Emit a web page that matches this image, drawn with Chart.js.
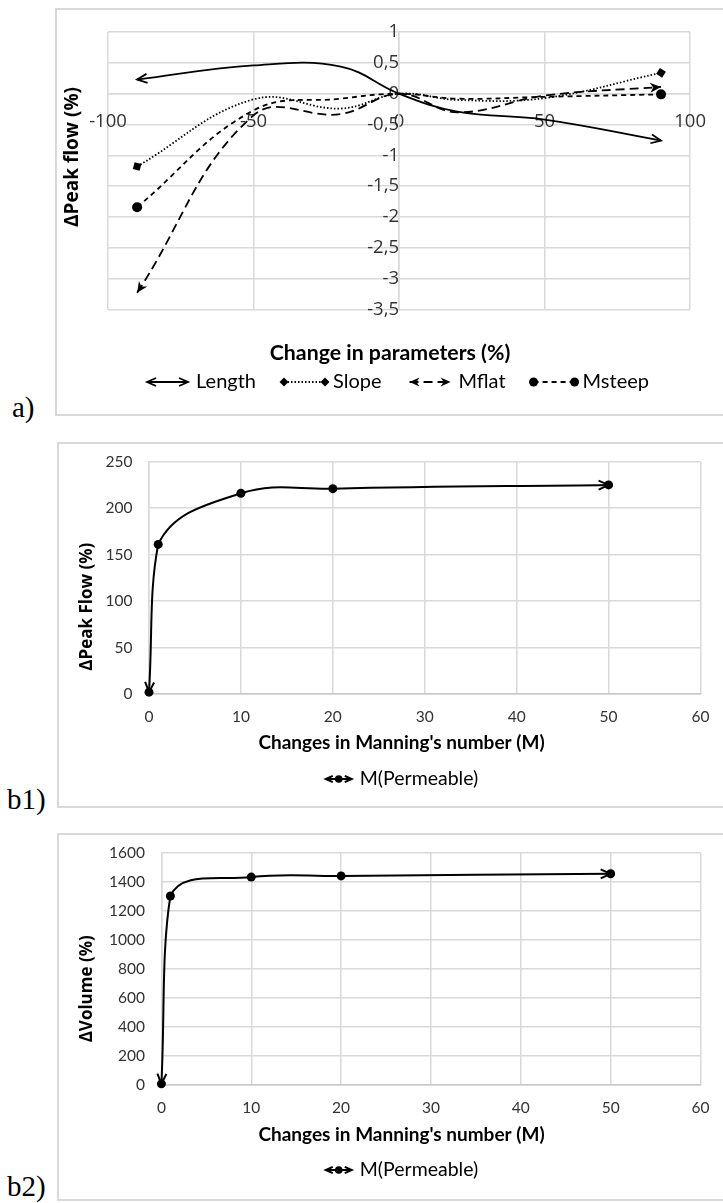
<!DOCTYPE html>
<html>
<head>
<meta charset="utf-8">
<script src="https://cdn.jsdelivr.net/npm/chart.js@4.4.1/dist/chart.umd.min.js"></script>
<style>
  body { margin: 0; background: #fff; }
  #page { position: relative; width: 723px; height: 1203px; overflow: hidden; background: #fff; }
  .frame { position: absolute; border: 2px solid #d9d9d9; box-sizing: border-box; }
  .tag { position: absolute; font-family: "Liberation Serif", "Times New Roman", serif; font-size: 29px; line-height: 29px; color: #000; }
  canvas { position: absolute; left: 0; }
</style>
</head>
<body>
<div id="page">
  <div class="frame" style="left:55px;top:8px;width:700px;height:408px"></div>
  <div class="frame" style="left:57px;top:442px;width:700px;height:366px"></div>
  <div class="frame" style="left:57px;top:833px;width:700px;height:368px"></div>
  <div class="tag" style="left:12px;top:393px">a)</div>
  <div class="tag" style="left:7px;top:785px">b1)</div>
  <div class="tag" style="left:7px;top:1172px">b2)</div>
  <canvas id="chartA" width="723" height="425" style="top:0"></canvas>
  <canvas id="chartB1" width="723" height="395" style="top:425px"></canvas>
  <canvas id="chartB2" width="723" height="383" style="top:820px"></canvas>
</div>
<script>
// a) change in peak flow vs change in each parameter
const changePct = [-90, -50, -20, 0, 20, 50, 90];
const lengthPeak = [0.23, 0.46, 0.44, 0, -0.29, -0.42, -0.76];
const slopePeak = [-1.18, -0.09, -0.24, 0, -0.10, -0.07, 0.34];
const mflatPeak = [-3.23, -0.35, -0.33, 0, -0.30, -0.03, 0.11];
const msteepPeak = [-1.84, -0.27, -0.08, 0, -0.08, -0.05, -0.01];
const aXTicks = [-100, -50, 0, 50, 100];
const aYTicks = [1, 0.5, 0, -0.5, -1, -1.5, -2, -2.5, -3, -3.5];

// b1/b2) Manning's number on the permeable surface
const manningM = [0, 1, 10, 20, 50];
const permPeak = [2, 161, 216, 221, 225];
const permVolume = [8, 1302, 1432, 1440, 1455];
const bXTicks = [0, 10, 20, 30, 40, 50, 60];
const b1YTicks = [0, 50, 100, 150, 200, 250];
const b2YTicks = [0, 200, 400, 600, 800, 1000, 1200, 1400, 1600];

const GRID = '#d9d9d9';
const TICK = '#333';

function pairs(xs, ys) {
    return xs.map((x, i) => ({ x: x, y: ys[i] }));
}

function fixedTicks(list) {
    return function (scale) {
        scale.ticks = list.map(v => ({ value: v }));
    };
}

function comma(v) {
    return String(v).replace('.', ',');
}

function plain(v) {
    return String(v);
}

// line-end decorations, drawn like office arrowheads
function drawCap(ctx, type, x, y, ang, color, lw, k) {
    if (!type) return;
    k = k || 1;
    const c = Math.cos(ang), s = Math.sin(ang);
    ctx.save();
    ctx.setLineDash([]);
    ctx.strokeStyle = color;
    ctx.fillStyle = color;
    ctx.lineWidth = lw;
    ctx.lineJoin = 'miter';
    ctx.beginPath();
    if (type === 'open') {
        const L = 10 * k, W = 4.5 * k;
        ctx.moveTo(x - L * c - W * s, y - L * s + W * c);
        ctx.lineTo(x, y);
        ctx.lineTo(x - L * c + W * s, y - L * s - W * c);
        ctx.stroke();
    } else if (type === 'stealth') {
        const L = 11 * k, W = 5 * k;
        ctx.moveTo(x, y);
        ctx.lineTo(x - L * c - W * s, y - L * s + W * c);
        ctx.lineTo(x - 0.7 * L * c, y - 0.7 * L * s);
        ctx.lineTo(x - L * c + W * s, y - L * s - W * c);
        ctx.closePath();
        ctx.fill();
    } else if (type === 'diamond') {
        const r = 5 * k;
        ctx.moveTo(x + r * c, y + r * s);
        ctx.lineTo(x - r * s, y + r * c);
        ctx.lineTo(x - r * c, y - r * s);
        ctx.lineTo(x + r * s, y - r * c);
        ctx.closePath();
        ctx.fill();
    } else if (type === 'oval') {
        ctx.arc(x, y, 5 * k, 0, Math.PI * 2);
        ctx.fill();
    }
    ctx.restore();
}

function capAngle(p, cx, cy, nb) {
    let dx = p.x - cx, dy = p.y - cy;
    if (!isFinite(dx) || !isFinite(dy) || Math.hypot(dx, dy) < 0.5) {
        dx = p.x - nb.x;
        dy = p.y - nb.y;
    }
    return Math.atan2(dy, dx);
}

const endCaps = {
    id: 'endCaps',
    afterDatasetsDraw(chart) {
        const ctx = chart.ctx;
        chart.data.datasets.forEach((ds, i) => {
            const pts = chart.getDatasetMeta(i).data;
            if (pts.length < 2) return;
            const a = pts[0], b = pts[pts.length - 1];
            drawCap(ctx, ds.startCap, a.x, a.y, capAngle(a, a.cp2x, a.cp2y, pts[1]), ds.borderColor, ds.borderWidth);
            drawCap(ctx, ds.endCap, b.x, b.y, capAngle(b, b.cp1x, b.cp1y, pts[pts.length - 2]), ds.borderColor, ds.borderWidth);
        });
    }
};

// axis titles placed like the spreadsheet layout
function titles(items) {
    return {
        id: 'panelTitles',
        afterDraw(chart) {
            const ctx = chart.ctx;
            items.forEach(t => {
                ctx.save();
                ctx.font = t.font;
                ctx.fillStyle = '#000';
                ctx.textAlign = 'center';
                ctx.textBaseline = 'middle';
                ctx.translate(t.x, t.y);
                if (t.rotate) ctx.rotate(-Math.PI / 2);
                ctx.fillText(t.text, 0, 0);
                ctx.restore();
            });
        }
    };
}

// legend row with line samples, arrowheads and markers
function keyRow(cx, cy, font, sampleW, gap, capK) {
    return {
        id: 'keyRow',
        afterDraw(chart) {
            const ctx = chart.ctx;
            ctx.save();
            ctx.font = font;
            const items = chart.data.datasets.map(ds => ({ ds: ds, w: sampleW + 6 + ctx.measureText(ds.label).width }));
            const total = items.reduce((s, it) => s + it.w, 0) + gap * (items.length - 1);
            let x = cx - total / 2;
            items.forEach(it => {
                const ds = it.ds;
                const x0 = x + 2, x1 = x + sampleW - 2;
                ctx.save();
                ctx.setLineDash(ds.borderDash || []);
                ctx.strokeStyle = ds.borderColor;
                ctx.lineWidth = ds.borderWidth;
                ctx.beginPath();
                ctx.moveTo(x0, cy);
                ctx.lineTo(x1, cy);
                ctx.stroke();
                ctx.restore();
                drawCap(ctx, ds.startCap, x0, cy, Math.PI, ds.borderColor, ds.borderWidth, capK);
                drawCap(ctx, ds.endCap, x1, cy, 0, ds.borderColor, ds.borderWidth, capK);
                if (ds.pointRadius > 0) {
                    ctx.beginPath();
                    ctx.fillStyle = ds.pointBackgroundColor;
                    ctx.arc((x0 + x1) / 2, cy, ds.pointRadius * 0.85, 0, Math.PI * 2);
                    ctx.fill();
                }
                ctx.fillStyle = '#000';
                ctx.textAlign = 'left';
                ctx.textBaseline = 'middle';
                ctx.fillText(ds.label, x + sampleW + 6, cy);
                x += it.w + gap;
            });
            ctx.restore();
        }
    };
}

const base = {
    animation: false,
    responsive: false,
    events: [],
    plugins: { legend: { display: false }, tooltip: { enabled: false } }
};

function lineSet(label, data, dash, startCap, endCap) {
    return {
        label: label,
        data: data,
        borderColor: '#000',
        borderWidth: 1.8,
        borderDash: dash,
        tension: 0.4,
        pointRadius: 0,
        fill: false,
        clip: false,
        startCap: startCap,
        endCap: endCap
    };
}

new Chart('chartA', {
    type: 'line',
    data: {
        datasets: [
            lineSet('Length', pairs(changePct, lengthPeak), [], 'open', 'open'),
            lineSet('Slope', pairs(changePct, slopePeak), [1.5, 2], 'diamond', 'diamond'),
            lineSet('Mflat', pairs(changePct, mflatPeak), [9, 5], 'stealth', 'stealth'),
            lineSet('Msteep', pairs(changePct, msteepPeak), [5, 4], 'oval', 'oval')
        ]
    },
    options: Object.assign({}, base, {
        layout: { padding: { left: 108, right: 27, top: 29.5, bottom: 115.5 } },
        scales: {
            x: {
                type: 'linear',
                position: { y: 0 },
                min: -100, max: 100,
                afterBuildTicks: fixedTicks(aXTicks),
                grid: { color: GRID, lineWidth: 1.5, drawTicks: false },
                border: { color: GRID, width: 1.5 },
                ticks: { padding: 17, color: TICK, autoSkip: false, maxRotation: 0, font: { family: 'Open Sans', size: 18.5 }, callback: comma }
            },
            y: {
                type: 'linear',
                position: { x: 0 },
                min: -3.5, max: 1,
                afterBuildTicks: fixedTicks(aYTicks),
                grid: { color: GRID, lineWidth: 1.5, drawTicks: false },
                border: { color: GRID, width: 1.5 },
                ticks: { padding: 21, color: TICK, autoSkip: false, font: { family: 'Open Sans', size: 18.5 }, callback: comma }
            }
        }
    }),
    plugins: [
        endCaps,
        titles([
            { text: 'Change in parameters (%)', x: 390, y: 353, font: 'bold 21.3px Lato' },
            { text: 'ΔPeak flow (%)', x: 73, y: 157, font: 'bold 19px "Open Sans"', rotate: true }
        ]),
        keyRow(397, 382, '20px Lato', 45, 26, 0.9)
    ]
});

function manningChart(id, values, yTicks, yMax, yTitle, geo) {
    return new Chart(id, {
        type: 'line',
        data: {
            datasets: [{
                label: 'M(Permeable)',
                data: pairs(manningM, values),
                borderColor: '#000',
                borderWidth: 2,
                tension: 0.4,
                pointRadius: 4.5,
                pointBackgroundColor: '#000',
                pointBorderWidth: 0,
                fill: false,
                clip: false,
                startCap: 'open',
                endCap: 'open'
            }]
        },
        options: Object.assign({}, base, {
            layout: { padding: { left: 0, right: 15.3, top: geo.top, bottom: 0 } },
            scales: {
                x: {
                    type: 'linear',
                    min: 0, max: 60,
                    afterBuildTicks: fixedTicks(bXTicks),
                    afterFit: s => { s.height = geo.xh; },
                    grid: { color: GRID, lineWidth: 1.5, drawTicks: false },
                    border: { color: '#c8c8c8', width: 1.5 },
                    ticks: { padding: 13.5, color: TICK, autoSkip: false, maxRotation: 0, font: { family: 'Lato', size: 15.5 }, callback: plain }
                },
                y: {
                    type: 'linear',
                    min: 0, max: yMax,
                    afterBuildTicks: fixedTicks(yTicks),
                    afterFit: s => { s.width = geo.yw; },
                    grid: { color: GRID, lineWidth: 1.5, drawTicks: false },
                    border: { color: GRID, width: 1.5 },
                    ticks: { padding: 16.5, color: TICK, autoSkip: false, font: { family: 'Lato', size: 15.5 }, callback: plain }
                }
            }
        }),
        plugins: [
            endCaps,
            titles([
                { text: "Changes in Manning's number (M)", x: 401.5, y: geo.xt, font: 'bold 19px Lato' },
                { text: yTitle, x: 87.6, y: geo.yt, font: 'bold 17px "Open Sans"', rotate: true }
            ]),
            keyRow(401, geo.key, '19.5px Lato', 30, 20, 0.7)
        ]
    });
}

manningChart('chartB1', permPeak, b1YTicks, 250, 'ΔPeak Flow (%)',
    { top: 36.7, xh: 126, yw: 149, xt: 317.7, yt: 181.7, key: 354 });
manningChart('chartB2', permVolume, b2YTicks, 1600, 'ΔVolume (%)',
    { top: 32.7, xh: 118, yw: 161.4, xt: 315, yt: 168.8, key: 350 });
</script>
</body>
</html>
